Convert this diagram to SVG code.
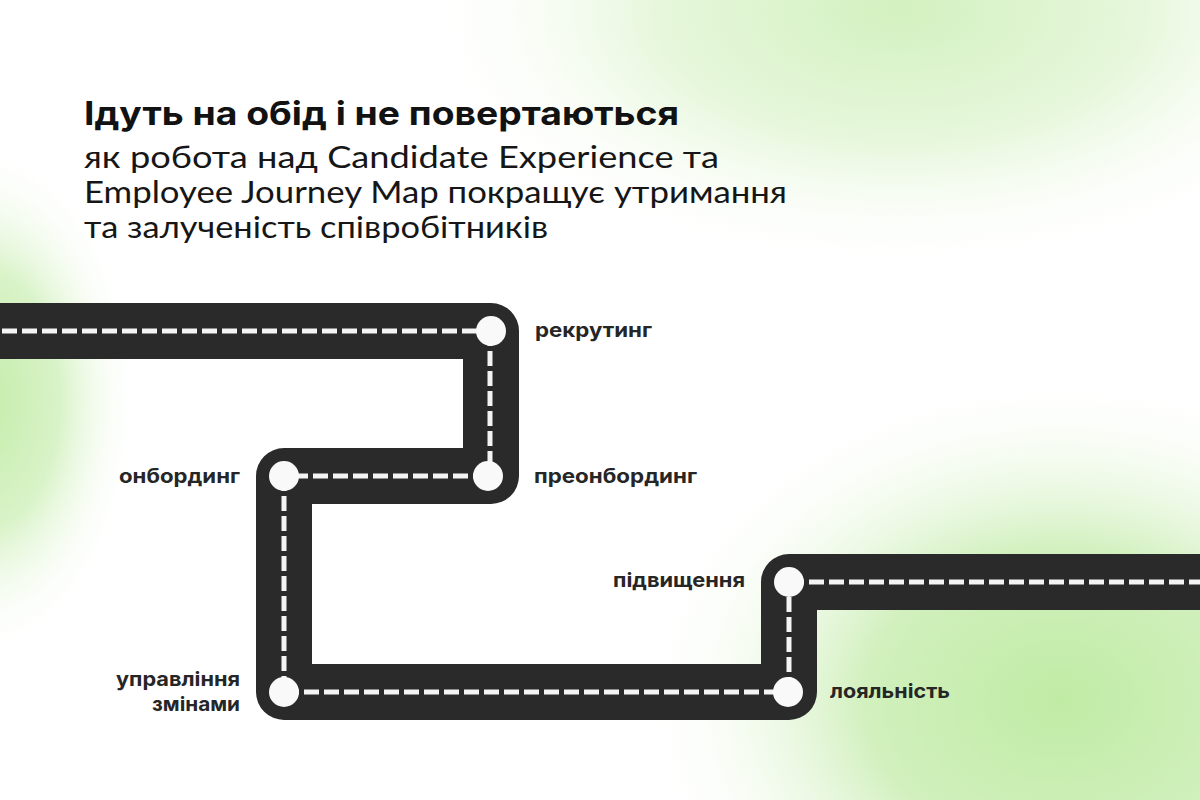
<svg xmlns="http://www.w3.org/2000/svg" width="1200" height="800" viewBox="0 0 1200 800">
<defs>
<radialGradient id="gTop" cx="900" cy="10" r="380" gradientUnits="userSpaceOnUse" gradientTransform="translate(900 10) scale(1.3 0.7) translate(-900 -10)">
<stop offset="0" stop-color="#d3f1c0"/>
<stop offset="0.5" stop-color="#e7f7dc"/>
<stop offset="1" stop-color="#ffffff" stop-opacity="0"/>
</radialGradient>
<radialGradient id="gLeft" cx="-20" cy="400" r="200" gradientUnits="userSpaceOnUse" gradientTransform="translate(-20 400) scale(0.8 1.3) translate(20 -400)">
<stop offset="0" stop-color="#c2eca8"/>
<stop offset="0.5" stop-color="#d9f3c8"/>
<stop offset="1" stop-color="#ffffff" stop-opacity="0"/>
</radialGradient>
<radialGradient id="gBR" cx="1060" cy="700" r="390" gradientUnits="userSpaceOnUse" gradientTransform="translate(1060 700) scale(1.1 0.85) translate(-1060 -700)">
<stop offset="0" stop-color="#c0eba5"/>
<stop offset="0.45" stop-color="#d1f0bd"/>
<stop offset="1" stop-color="#ffffff" stop-opacity="0"/>
</radialGradient>
<style>
.title{font-family:Inter,"Liberation Sans",sans-serif;font-weight:700;font-size:33px;fill:#121212}
.sub{font-family:Lato,"Liberation Sans",sans-serif;font-weight:400;font-size:30px;fill:#161616}
.lbl{font-family:Inter,"Liberation Sans",sans-serif;font-weight:700;font-size:20px;fill:#262626}
.road{fill:none;stroke:#2a2a2a;stroke-width:56;stroke-linejoin:round}
.dash{fill:none;stroke:#f4f4f4;stroke-width:5;stroke-dasharray:15 5}
.node{fill:#f9f9f9}
</style>
</defs>
<rect width="1200" height="800" fill="#ffffff"/>
<rect width="1200" height="800" fill="url(#gTop)"/>
<rect width="1200" height="800" fill="url(#gLeft)"/>
<rect width="1200" height="800" fill="url(#gBR)"/>

<g id="heading">
<text class="title" x="84" y="125" textLength="595" lengthAdjust="spacingAndGlyphs">Ідуть на обід і не повертаються</text>
<text class="sub" x="84" y="168" textLength="635" lengthAdjust="spacingAndGlyphs">як робота над Candidate Experience та</text>
<text class="sub" x="84" y="203" textLength="703" lengthAdjust="spacingAndGlyphs">Employee Journey Map покращує утримання</text>
<text class="sub" x="84" y="238" textLength="464" lengthAdjust="spacingAndGlyphs">та залученість співробітників</text>
</g>

<g id="connectors">
<path class="road" d="M -10 331 H 491 V 476 H 284 V 692 H 789 V 582 H 1210"/>
<line class="dash" x1="2" y1="331" x2="491" y2="331"/>
<line class="dash" x1="490" y1="331" x2="490" y2="476"/>
<line class="dash" x1="488" y1="476" x2="284" y2="476"/>
<line class="dash" x1="284" y1="476" x2="284" y2="692"/>
<line class="dash" x1="284" y1="692" x2="789" y2="692"/>
<line class="dash" x1="789" y1="692" x2="789" y2="582"/>
<line class="dash" x1="789" y1="582" x2="1200" y2="582"/>
</g>

<g id="node-recruiting">
<circle class="node" cx="491" cy="331" r="15"/>
<text class="lbl" x="535" y="337" textLength="117" lengthAdjust="spacingAndGlyphs">рекрутинг</text>
</g>
<g id="node-preonboarding">
<circle class="node" cx="488" cy="476" r="15"/>
<text class="lbl" x="534" y="483" textLength="163" lengthAdjust="spacingAndGlyphs">преонбординг</text>
</g>
<g id="node-onboarding">
<circle class="node" cx="284" cy="476" r="15"/>
<text class="lbl" x="119" y="483" textLength="121" lengthAdjust="spacingAndGlyphs">онбординг</text>
</g>
<g id="node-change">
<circle class="node" cx="284" cy="692" r="15"/>
<text class="lbl" x="116" y="686" textLength="124" lengthAdjust="spacingAndGlyphs">управління</text>
<text class="lbl" x="152" y="711" textLength="88" lengthAdjust="spacingAndGlyphs">змінами</text>
</g>
<g id="node-loyalty">
<circle class="node" cx="788" cy="692" r="15"/>
<text class="lbl" x="830" y="698" textLength="120" lengthAdjust="spacingAndGlyphs">лояльність</text>
</g>
<g id="node-promotion">
<circle class="node" cx="789" cy="582" r="15"/>
<text class="lbl" x="613" y="587" textLength="132" lengthAdjust="spacingAndGlyphs">підвищення</text>
</g>
</svg>
